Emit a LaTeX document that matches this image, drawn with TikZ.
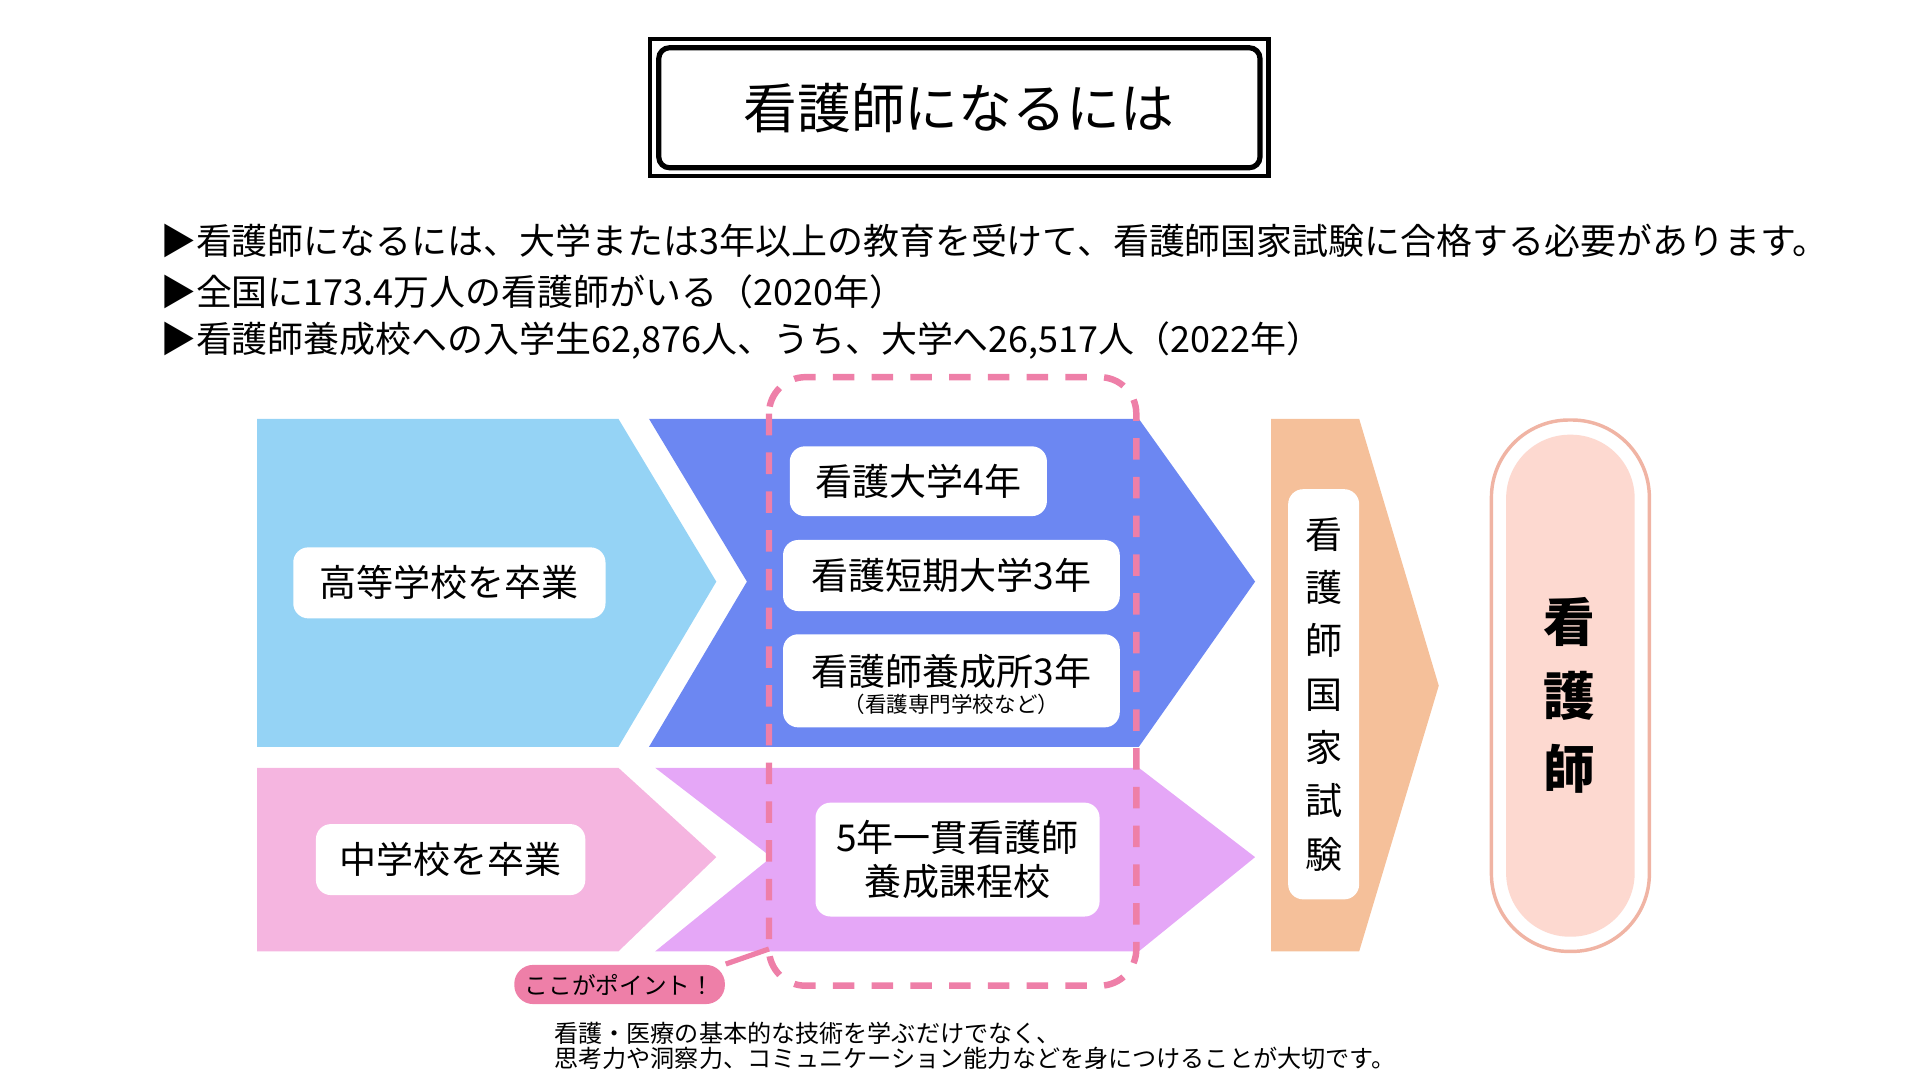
\documentclass[tikz,border=0pt]{standalone}
\usepackage{fontspec}
\setmainfont{Noto Sans CJK JP}
\usetikzlibrary{positioning}
\definecolor{skyblue}{HTML}{95D3F5}
\definecolor{royal}{HTML}{6C87F2}
\definecolor{pinkish}{HTML}{F5B5E0}
\definecolor{violet}{HTML}{E5A7F7}
\definecolor{peach}{HTML}{F5C09A}
\definecolor{salmon}{HTML}{F0B4A4}
\definecolor{blush}{HTML}{FDD9D0}
\definecolor{hotpink}{HTML}{EE7FA8}
\tikzset{
  whitebox/.style={fill=white, rounded corners=3.5pt, inner sep=0pt, align=center, font=\fontsize{8.6}{10}\selectfont},
  bullet/.style={anchor=west, inner sep=0pt, font=\fontsize{8.35}{9}\selectfont}
}
\begin{document}
\begin{tikzpicture}[x=0.01cm, y=-0.01cm]
\useasboundingbox (0,0) rectangle (1568,882);

% title
\draw[line width=1pt] (531,32) rectangle (1036,144);
\draw[line width=1.2pt, rounded corners=2.5pt] (538,39) rectangle (1029,137);
\node (title) at (783,88) {\fontsize{12.5}{14}\selectfont 看護師になるには};

\node[bullet] (b1) at (130,197) {▶看護師になるには、大学または3年以上の教育を受けて、看護師国家試験に合格する必要があります。};
\node[bullet] (b2) at (130,238) {▶全国に173.4万人の看護師がいる（2020年）};
\node[bullet] (b3) at (130,278) {▶看護師養成校への入学生62,876人、うち、大学へ26,517人（2022年）};

% arrows
\fill[skyblue] (210,342) -- (505,342) -- (585,475) -- (505,610) -- (210,610) -- cycle;
\fill[royal] (530,342) -- (930,342) -- (1025,475) -- (930,610) -- (530,610) -- (610,475) -- cycle;
\fill[pinkish] (210,627) -- (505,627) -- (585,700) -- (505,777) -- (210,777) -- cycle;
\fill[violet] (535,627) -- (930,627) -- (1025,700) -- (930,777) -- (535,777) -- (630,700) -- cycle;
\fill[peach] (1038,342) -- (1110,342) -- (1175,560) -- (1110,777) -- (1038,777) -- cycle;

% goal
\draw[salmon, fill=white, line width=0.8pt, rounded corners=18pt] (1218,343) rectangle (1347,777);
\fill[blush, rounded corners=14.8pt] (1230,355) rectangle (1335,765);
\node[align=center, font=\fontsize{12}{17}\selectfont\bfseries] (goal) at (1282,568) {看\\護\\師};

% boxes
\node[whitebox, minimum width=255*0.01cm, minimum height=58*0.01cm] (high) at (367,476) {高等学校を卒業};
\node[whitebox, minimum width=210*0.01cm, minimum height=57*0.01cm] (univ) at (750,393) {看護大学4年};
\node[whitebox, minimum width=275*0.01cm, minimum height=58*0.01cm] (junior) at (777,470) {看護短期大学3年};
\node[whitebox, minimum width=275*0.01cm, minimum height=76*0.01cm] (school) at (777,556) {};
\node (schooltxt) at (777,548) {\fontsize{8.6}{10}\selectfont 看護師養成所3年};
\node (schoolsub) at (777,575) {\fontsize{5}{6}\selectfont （看護専門学校など）};
\node[whitebox, minimum width=220*0.01cm, minimum height=58*0.01cm] (middle) at (368,702) {中学校を卒業};
\node[whitebox, minimum width=232*0.01cm, minimum height=93*0.01cm, font=\fontsize{8.6}{10.3}\selectfont] (fiveyr) at (782,702) {5年一貫看護師\\養成課程校};
\node[whitebox, minimum width=58*0.01cm, minimum height=335*0.01cm, font=\fontsize{8.6}{12.4}\selectfont] (exam) at (1081,567) {看\\護\\師\\国\\家\\試\\験};

% point
\draw[hotpink, line width=1.5pt, dash pattern=on 5pt off 4pt, rounded corners=8.5pt] (628,308) rectangle (928,805);
\node[fill=hotpink, rounded corners=4.4pt, minimum width=172*0.01cm, minimum height=32*0.01cm, inner sep=0pt, font=\fontsize{5.5}{6}\selectfont] (point) at (506,804) {ここがポイント！};
\coordinate (edge) at (628,775);
\draw[hotpink, line width=1.2pt] (point.north east) -- (edge);
\node[anchor=north west, inner sep=0pt, align=left, font=\fontsize{5.6}{5.9}\selectfont] (note) at (452,834) {看護・医療の基本的な技術を学ぶだけでなく、\\思考力や洞察力、コミュニケーション能力などを身につけることが大切です。};
\end{tikzpicture}
\end{document}
